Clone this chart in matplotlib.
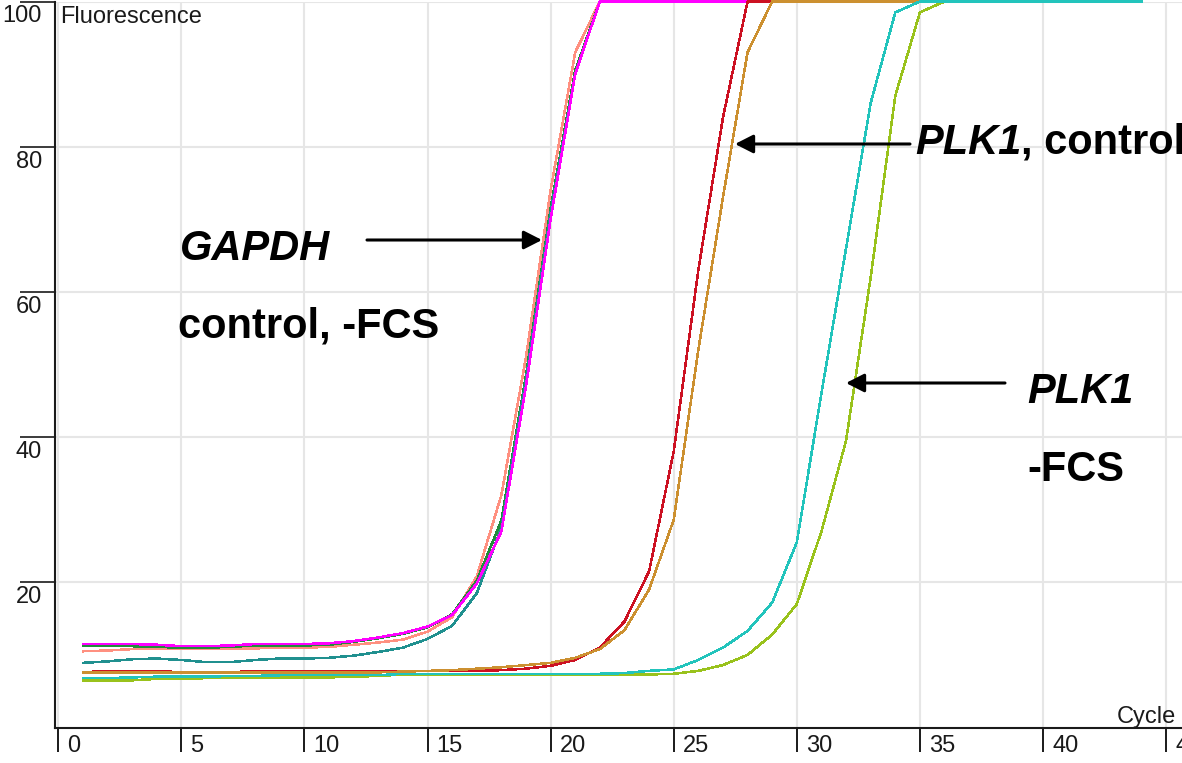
"""qPCR amplification curves: GAPDH and PLK1, control vs -FCS."""

import matplotlib

matplotlib.use("Agg")
import matplotlib.pyplot as plt
import numpy as np

plt.rcParams["font.family"] = ["Liberation Sans", "DejaVu Sans"]

W, H = 1182, 763  # output size in pixels (dpi 100)

cycles = np.arange(1, 45)

# fluorescence per cycle (detector saturates at 100)
gapdh_salmon = [
    10.5, 10.6, 10.8, 10.8, 10.8, 10.8, 10.8, 10.9, 11.0, 11.0, 11.1,
    11.4, 11.7, 12.1, 13.2, 15.2, 20.8, 32.0, 51.0, 74.0, 93.0, 100.0,
    100.0, 100.0, 100.0, 100.0, 100.0, 100.0, 100.0, 100.0, 100.0, 100.0, 100.0,
    100.0, 100.0, 100.0, 100.0, 100.0, 100.0, 100.0, 100.0, 100.0, 100.0, 100.0,
]
gapdh_green = [
    11.3, 11.3, 11.2, 11.1, 11.0, 11.0, 11.1, 11.3, 11.3, 11.3, 11.4,
    11.8, 12.3, 12.9, 13.8, 15.6, 20.2, 28.5, 48.5, 71.5, 90.5, 100.0,
    100.0, 100.0, 100.0, 100.0, 100.0, 100.0, 100.0, 100.0, 100.0, 100.0, 100.0,
    100.0, 100.0, 100.0, 100.0, 100.0, 100.0, 100.0, 100.0, 100.0, 100.0, 100.0,
]
gapdh_teal = [
    8.9, 9.1, 9.4, 9.5, 9.3, 9.0, 9.0, 9.3, 9.5, 9.5, 9.6,
    9.9, 10.4, 11.0, 12.2, 14.0, 18.5, 27.5, 48.0, 71.0, 90.0, 100.0,
    100.0, 100.0, 100.0, 100.0, 100.0, 100.0, 100.0, 100.0, 100.0, 100.0, 100.0,
    100.0, 100.0, 100.0, 100.0, 100.0, 100.0, 100.0, 100.0, 100.0, 100.0, 100.0,
]
gapdh_magenta = [
    11.5, 11.5, 11.5, 11.4, 11.2, 11.2, 11.3, 11.5, 11.5, 11.5, 11.6,
    11.9, 12.4, 13.0, 13.9, 15.5, 19.8, 27.0, 47.0, 70.0, 90.0, 100.0,
    100.0, 100.0, 100.0, 100.0, 100.0, 100.0, 100.0, 100.0, 100.0, 100.0, 100.0,
    100.0, 100.0, 100.0, 100.0, 100.0, 100.0, 100.0, 100.0, 100.0, 100.0, 100.0,
]
plk1_ctrl_red = [
    7.6, 7.8, 7.8, 7.8, 7.6, 7.6, 7.6, 7.8, 7.8, 7.8, 7.8,
    7.8, 7.8, 7.8, 7.8, 7.8, 7.8, 7.9, 8.1, 8.5, 9.3, 11.0,
    14.6, 21.5, 38.0, 63.0, 84.0, 100.0, 100.0, 100.0, 100.0, 100.0, 100.0,
    100.0, 100.0, 100.0, 100.0, 100.0, 100.0, 100.0, 100.0, 100.0, 100.0, 100.0,
]
plk1_ctrl_gold = [
    7.6, 7.6, 7.6, 7.6, 7.6, 7.6, 7.6, 7.6, 7.6, 7.6, 7.6,
    7.6, 7.6, 7.7, 7.8, 7.9, 8.1, 8.3, 8.6, 8.9, 9.6, 10.8,
    13.4, 19.0, 28.6, 52.0, 73.0, 93.0, 100.0, 100.0, 100.0, 100.0, 100.0,
    100.0, 100.0, 100.0, 100.0, 100.0, 100.0, 100.0, 100.0, 100.0, 100.0, 100.0,
]
plk1_fcs_lime = [
    6.5, 6.5, 6.5, 6.7, 6.7, 6.8, 6.9, 6.9, 6.9, 6.9, 6.9,
    7.0, 7.1, 7.3, 7.3, 7.3, 7.3, 7.3, 7.3, 7.3, 7.3, 7.3,
    7.3, 7.3, 7.4, 7.8, 8.6, 10.0, 12.8, 17.0, 27.0, 39.5, 62.0,
    87.0, 98.5, 100.0, 100.0, 100.0, 100.0, 100.0, 100.0, 100.0, 100.0, 100.0,
]
plk1_fcs_cyan = [
    6.8, 6.8, 6.9, 7.0, 7.0, 7.0, 7.1, 7.1, 7.2, 7.2, 7.2,
    7.2, 7.2, 7.4, 7.4, 7.4, 7.4, 7.4, 7.4, 7.4, 7.4, 7.4,
    7.5, 7.8, 8.0, 9.3, 11.0, 13.3, 17.2, 25.5, 46.0, 66.0, 86.0,
    98.5, 100.0, 100.0, 100.0, 100.0, 100.0, 100.0, 100.0, 100.0, 100.0, 100.0,
]

# drawing order matters where curves overlap on the plateau
series = [
    (gapdh_salmon, "#ff9080"),
    (gapdh_green, "#228b3b"),
    (gapdh_teal, "#20908f"),
    (gapdh_magenta, "#ff00ff"),
    (plk1_ctrl_red, "#cc1122"),
    (plk1_ctrl_gold, "#cc9030"),
    (plk1_fcs_lime, "#99c21c"),
    (plk1_fcs_cyan, "#22c4bc"),
]

x_ticks = list(range(0, 50, 5))
y_ticks = [20, 40, 60, 80, 100]

px_per_cycle = 24.62
fig = plt.figure(figsize=(W / 100, H / 100), dpi=100)
ax = fig.add_axes([55 / W, (H - 727.5) / H, 1 - 55 / W, 726 / H])
ax.set_xlim(-0.13, -0.13 + (W - 55) / px_per_cycle)
ax.set_ylim(0, 100)

# hard-edged lines so overlapping curves don't blend into new colours
for values, color in series:
    ax.plot(cycles, values, color=color, lw=1.1, clip_on=False, zorder=3,
            antialiased=False)

ax.set_xticks(x_ticks)
ax.set_yticks(y_ticks)
ax.grid(True, color="#e6e6e6", lw=1.5)
ax.set_axisbelow(True)
for side in ("top", "right"):
    ax.spines[side].set_visible(False)
for side in ("left", "bottom"):
    ax.spines[side].set_linewidth(1.5)
    ax.spines[side].set_color("#1a1a1a")
ax.tick_params(axis="x", direction="out", length=17, width=1.4,
               color="#1a1a1a", labelbottom=False)
ax.tick_params(axis="y", direction="out", length=25, width=1.2,
               color="#1a1a1a", labelleft=False)

tick_style = dict(fontsize=17, color="#1a1a1a", textcoords="offset pixels",
                  annotation_clip=False)
for v in x_ticks:
    ax.annotate(str(v), xy=(v, 0), xycoords=("data", "axes fraction"),
                xytext=(9, -7), ha="left", va="top", **tick_style)
for v in y_ticks:
    ax.annotate(str(v), xy=(0, v), xycoords=("axes fraction", "data"),
                xytext=(-13, -4), ha="right", va="top", **tick_style)

fig.text(60 / W, 1 - 23 / H, "Fluorescence", fontsize=17, color="#1a1a1a")
fig.text(1117 / W, 1 - 723 / H, "Cycle", fontsize=17, color="#1a1a1a")


def fig_px(x, y):
    return (x, H - y)


label_style = dict(fontsize=30, fontweight="bold", color="black")
fig.text(180 / W, 1 - 260 / H, "GAPDH", style="italic", **label_style)
fig.text(178 / W, 1 - 337 / H, "control, -FCS", **label_style)

t_plk = fig.text(915 / W, 1 - 163 / H, "PLK1", style="italic", va="bottom",
                 **label_style)
ax.annotate(", control", xy=(1, 0), xycoords=t_plk, va="bottom", ha="left",
            annotation_clip=False, **label_style)
fig.text(1027 / W, 1 - 403 / H, "PLK1", style="italic", **label_style)
fig.text(1027 / W, 1 - 481 / H, "-FCS", **label_style)

arrow_props = dict(arrowstyle="-|>,head_length=0.55,head_width=0.28",
                   mutation_scale=20, lw=2.2, color="black",
                   shrinkA=0, shrinkB=0)
for tail, tip in [((367, 240), (542, 240)),
                  ((910, 144), (735, 144)),
                  ((1005, 383), (846, 383))]:
    ax.annotate("", xy=fig_px(*tip), xycoords="figure pixels",
                xytext=fig_px(*tail), textcoords="figure pixels",
                arrowprops=arrow_props, annotation_clip=False)

fig.savefig("out.png", dpi=100)
plt.close(fig)
